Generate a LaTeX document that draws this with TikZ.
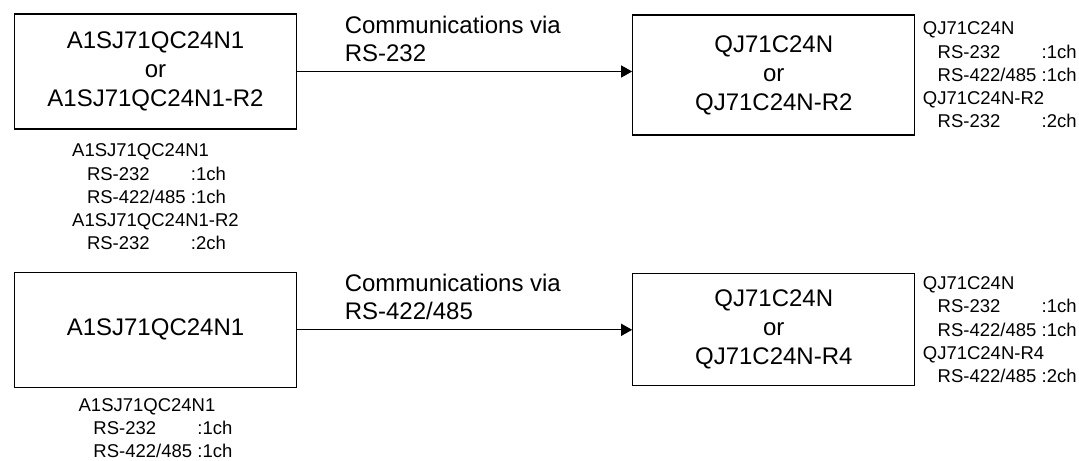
\documentclass[tikz,border=0pt]{standalone}
\usepackage{fontspec}
\setmainfont{Liberation Sans}
\usetikzlibrary{arrows.meta,positioning}

% one port line of a module: indented name, then channel count
\newcommand{\port}[2]{\hspace*{0.8em}\makebox[5.62em][l]{#1}:#2ch}

\begin{document}
\begin{tikzpicture}[
  x=0.5pt, y=-0.5pt,
  >={Triangle[length=5.5pt,width=6pt]},
  % module box
  box/.style = {
    draw, line width=0.65pt,
    align=center,
    inner sep=0pt,
    minimum width=141pt,
    minimum height=57.5pt,
    font=\fontsize{12}{14.5}\selectfont
  },
  spec/.style = {
    align=left, inner sep=0pt,
    font=\fontsize{9.25}{11.6}\selectfont
  },
  via/.style = {align=left, inner sep=0pt, font=\fontsize{12}{14}\selectfont},
  wire/.style = {draw, line width=0.65pt, ->}
]

% ---- frame ----
\useasboundingbox (0,0) rectangle (1079,460);

% ---- nodes ----
% Top row: RS-232
\node[box] (a1) at (155.5,71.5) {A1SJ71QC24N1\\or\\A1SJ71QC24N1-R2};
\node[box, minimum height=60pt, right=167.5pt of a1, yshift=-1.75pt] (q1) {QJ71C24N\\or\\QJ71C24N-R2};

% Bottom row: RS-422/485
\node[box, below=71pt of a1] (a2) {A1SJ71QC24N1};
\node[box, minimum height=56pt, right=167.5pt of a2] (q2) {QJ71C24N\\or\\QJ71C24N-R4};

% channel lists
\node[spec, below=7pt of a1] (a1spec) {A1SJ71QC24N1\\
\port{RS-232}{1}\\
\port{RS-422/485}{1}\\
A1SJ71QC24N1-R2\\
\port{RS-232}{2}};
\node[spec, right=3.5pt of q1] (q1spec) {QJ71C24N\\
\port{RS-232}{1}\\
\port{RS-422/485}{1}\\
QJ71C24N-R2\\
\port{RS-232}{2}};
\node[spec, below=5pt of a2] (a2spec) {A1SJ71QC24N1\\
\port{RS-232}{1}\\
\port{RS-422/485}{1}};
\node[spec, right=3.5pt of q2] (q2spec) {QJ71C24N\\
\port{RS-232}{1}\\
\port{RS-422/485}{1}\\
QJ71C24N-R4\\
\port{RS-422/485}{2}};

% ---- arrows ----
\draw[wire] (a1.east) -- node[via, pos=0, anchor=south west, xshift=23.5pt, yshift=4.5pt] {Communications via\\RS-232} (a1.east -| q1.west);
\draw[wire] (a2.east) -- node[via, pos=0, anchor=south west, xshift=23.5pt, yshift=4.5pt] {Communications via\\RS-422/485} (a2.east -| q2.west);

\end{tikzpicture}
\end{document}
